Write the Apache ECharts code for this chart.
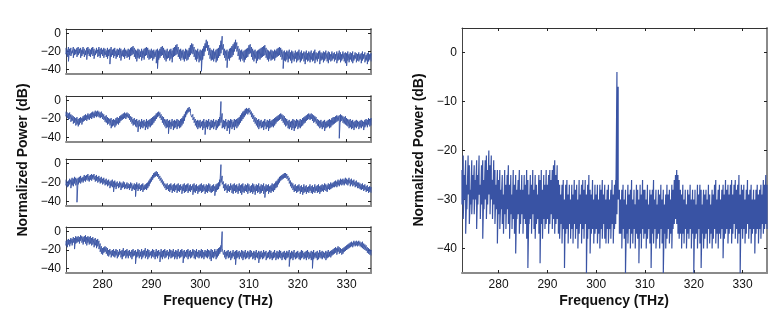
<!DOCTYPE html>
<html><head><meta charset="utf-8">
<script src="https://cdn.jsdelivr.net/npm/echarts@6/dist/echarts.min.js"></script>
<style>html,body{margin:0;padding:0;background:#fff}#c{width:780px;height:324px}</style>
</head><body><div id="c"></div>
<script>
const FONT = '"Liberation Sans Narrow","Liberation Sans",Arial,sans-serif';
// Each spectrum is summarised per 0.25 THz bin (272.5 ... 335 THz) by the upper and lower
// edge of the dense noisy trace, in dB.
const freqStart = 272.5, freqStep = 0.25;
const xTicks = [280, 290, 300, 310, 320, 330];
const yTicksSmall = [0, -20, -40];
const yTicksLarge = [0, -10, -20, -30, -40];

const panel1Upper = [
-16,-18,-15,-17,-16,-19,-15,-17,-18,-16, -15,-17,-16,-18,-15,-17,-19,-16,-15,-17,
-18,-16,-15,-17,-19,-16,-18,-15,-17,-16, -18,-16,-17,-19,-16,-18,-17,-15,-18,-17,
-16,-19,-17,-18,-16,-17,-19,-18,-16,-18, -19,-17,-18,-16,-15,-14,-16,-18,-19,-17,
-18,-20,-17,-19,-17,-16,-15,-16,-18,-19, -17,-19,-18,-20,-18,-17,-19,-17,-15,-14,
-16,-18,-19,-17,-20,-18,-17,-19,-16,-15, -13,-12,-15,-18,-17,-19,-18,-20,-17,-18,
-19,-16,-13,-11,-12,-15,-18,-19,-17,-20, -18,-19,-17,-14,-11,-7,-9,-13,-16,-18,
-19,-17,-20,-18,-17,-16,-13,-8,-3,-12, -17,-19,-18,-20,-17,-16,-14,-12,-10,-7,
-10,-14,-17,-19,-18,-20,-19,-18,-17,-16, -13,-12,-15,-17,-19,-18,-20,-19,-18,-17,
-16,-15,-14,-13,-16,-18,-19,-20,-18,-19, -20,-18,-19,-17,-16,-15,-16,-18,-20,-19,
-21,-19,-20,-18,-21,-19,-20,-22,-19,-21, -20,-18,-21,-19,-22,-20,-21,-19,-22,-20,
-21,-19,-22,-20,-18,-21,-22,-20,-19,-21, -22,-20,-21,-19,-22,-20,-21,-23,-20,-22,
-21,-23,-20,-22,-19,-21,-23,-20,-22,-21, -22,-20,-23,-21,-22,-20,-24,-21,-22,-23,
-21,-23,-22,-20,-23,-21,-24,-22,-21,-23, -22];
const panel1Lower = [
-23,-26,-31,-24,-25,-22,-27,-24,-23,-26, -24,-22,-27,-25,-23,-26,-24,-29,-23,-25,
-26,-23,-25,-28,-24,-22,-26,-25,-27,-23, -25,-27,-24,-26,-28,-25,-34,-26,-24,-27,
-25,-28,-26,-24,-27,-30,-25,-26,-28,-25, -27,-26,-29,-25,-24,-23,-26,-28,-31,-27,
-28,-26,-30,-27,-29,-25,-24,-27,-29,-28, -27,-30,-28,-26,-33,-39,-29,-27,-25,-24,
-27,-29,-31,-28,-27,-30,-28,-32,-26,-25, -24,-23,-26,-28,-30,-27,-29,-31,-28,-30,
-29,-26,-24,-22,-23,-26,-29,-31,-28,-32, -30,-42,-29,-25,-20,-16,-19,-24,-28,-30,
-29,-31,-28,-32,-30,-27,-25,-22,-18,-24, -27,-30,-38,-28,-30,-27,-26,-24,-20,-17,
-20,-25,-29,-31,-28,-30,-32,-29,-27,-26, -23,-22,-26,-29,-31,-28,-33,-30,-28,-29,
-27,-26,-25,-24,-27,-29,-31,-28,-30,-29, -28,-30,-27,-26,-25,-24,-26,-29,-39,-30,
-31,-29,-32,-28,-30,-33,-29,-31,-28,-32, -30,-29,-32,-30,-28,-31,-34,-29,-31,-30,
-32,-29,-31,-30,-33,-29,-31,-28,-34,-30, -29,-32,-30,-28,-31,-33,-29,-31,-30,-28,
-31,-29,-33,-30,-29,-32,-30,-28,-31,-33, -36,-30,-32,-29,-31,-33,-30,-28,-32,-30,
-31,-29,-33,-30,-28,-32,-30,-34,-31,-29, -31];

const panel2Upper = [
-12,-13,-14,-13,-15,-16,-17,-18,-19,-18, -20,-19,-18,-19,-17,-16,-15,-16,-14,-15,
-14,-13,-12,-13,-11,-12,-11,-12,-13,-12, -14,-15,-17,-16,-18,-19,-20,-19,-21,-20,
-21,-19,-18,-19,-17,-16,-15,-14,-13,-14, -13,-14,-15,-17,-18,-20,-19,-21,-20,-22,
-21,-23,-20,-22,-21,-23,-20,-22,-21,-20, -19,-18,-17,-16,-14,-13,-12,-13,-15,-17,
-18,-20,-21,-20,-22,-21,-23,-20,-22,-21, -22,-20,-21,-22,-20,-19,-17,-15,-12,-10,
-8,-7,-9,-12,-15,-18,-20,-22,-21,-22, -21,-23,-22,-20,-23,-21,-22,-20,-23,-21,
-22,-20,-23,-21,-22,-20,-18,-1,-14,-21, -22,-20,-23,-21,-22,-20,-21,-23,-20,-21,
-20,-19,-18,-16,-14,-12,-11,-9,-8,-9, -8,-10,-12,-14,-16,-18,-19,-21,-20,-22,
-21,-23,-22,-20,-23,-21,-22,-20,-22,-21, -20,-19,-18,-17,-16,-15,-14,-15,-16,-17,
-19,-20,-22,-21,-23,-22,-20,-21,-22,-20, -21,-22,-20,-21,-19,-18,-17,-16,-15,-14,
-15,-14,-15,-16,-17,-18,-20,-21,-22,-21, -23,-22,-21,-23,-22,-21,-20,-21,-19,-18,
-18,-17,-16,-17,-16,-15,-16,-17,-18,-17, -19,-20,-21,-20,-22,-21,-23,-22,-21,-22,
-23,-22,-21,-22,-23,-21,-20,-21,-19,-20, -19];
const panel2Lower = [
-17,-19,-21,-20,-23,-22,-25,-24,-27,-26, -28,-26,-24,-26,-23,-22,-21,-22,-20,-21,
-19,-20,-18,-19,-17,-18,-17,-18,-19,-18, -20,-21,-23,-24,-26,-25,-27,-30,-28,-27,
-29,-27,-25,-26,-24,-22,-21,-20,-19,-20, -18,-19,-21,-23,-25,-27,-26,-28,-29,-34,
-28,-31,-29,-30,-28,-32,-29,-31,-28,-29, -27,-26,-24,-22,-20,-18,-17,-19,-21,-24,
-26,-28,-30,-29,-36,-29,-31,-28,-32,-30, -29,-31,-28,-30,-29,-27,-25,-22,-18,-15,
-13,-12,-14,-18,-21,-24,-27,-29,-31,-29, -30,-28,-32,-30,-37,-29,-31,-28,-32,-30,
-29,-31,-28,-32,-30,-28,-27,-24,-30,-29, -31,-28,-33,-30,-36,-29,-31,-29,-32,-28,
-30,-28,-26,-24,-22,-20,-18,-16,-14,-15, -13,-15,-18,-20,-23,-25,-27,-29,-31,-28,
-30,-29,-32,-28,-31,-29,-33,-30,-29,-28, -29,-27,-25,-23,-22,-21,-20,-22,-24,-26,
-28,-27,-30,-31,-29,-32,-30,-33,-30,-28, -31,-29,-30,-28,-27,-25,-24,-22,-21,-20,
-21,-20,-22,-24,-23,-25,-27,-28,-30,-29, -31,-29,-33,-30,-29,-28,-30,-29,-27,-26,
-25,-24,-23,-22,-41,-23,-22,-24,-25,-26, -27,-28,-30,-29,-31,-30,-32,-29,-30,-28,
-31,-29,-30,-28,-32,-29,-27,-29,-26,-28, -27];

const panel3Upper = [
-17,-19,-18,-16,-17,-15,-16,-14,-15,-16, -15,-14,-13,-15,-14,-12,-13,-12,-11,-13,
-12,-11,-12,-11,-13,-12,-14,-13,-15,-14, -16,-15,-17,-16,-18,-17,-19,-18,-17,-19,
-18,-20,-19,-21,-19,-20,-21,-19,-20,-22, -20,-21,-22,-20,-21,-23,-21,-22,-20,-22,
-21,-23,-22,-21,-23,-22,-21,-20,-18,-16, -14,-12,-10,-9,-8,-9,-11,-13,-15,-17,
-19,-21,-22,-21,-23,-22,-21,-23,-22,-21, -23,-22,-21,-23,-22,-24,-22,-21,-23,-22,
-21,-23,-22,-24,-22,-21,-23,-22,-24,-23, -22,-21,-23,-22,-24,-22,-23,-21,-22,-24,
-23,-22,-24,-22,-21,-20,-17,-1,-13,-19, -22,-21,-23,-22,-24,-21,-23,-22,-21,-23,
-22,-24,-21,-23,-22,-21,-24,-22,-23,-21, -22,-24,-23,-21,-22,-24,-22,-23,-21,-24,
-22,-23,-21,-24,-22,-23,-22,-24,-23,-21, -22,-21,-19,-18,-16,-14,-13,-12,-11,-10,
-10,-11,-13,-15,-18,-20,-21,-23,-22,-24, -23,-22,-24,-23,-25,-22,-24,-23,-25,-24,
-22,-24,-23,-25,-22,-24,-23,-22,-24,-23, -22,-23,-21,-22,-23,-21,-22,-20,-21,-20,
-19,-18,-19,-17,-18,-16,-17,-16,-17,-15, -16,-17,-15,-17,-16,-18,-17,-19,-18,-20,
-20,-21,-22,-21,-23,-22,-24,-23,-25,-24, -25];
const panel3Lower = [
-23,-25,-24,-22,-26,-23,-24,-21,-23,-41, -22,-20,-21,-19,-20,-18,-19,-17,-18,-19,
-17,-18,-16,-17,-19,-18,-20,-19,-21,-20, -22,-21,-23,-22,-24,-23,-26,-24,-25,-30,
-25,-27,-24,-26,-25,-28,-26,-25,-27,-26, -27,-26,-28,-26,-29,-27,-28,-35,-27,-29,
-27,-29,-28,-30,-28,-27,-28,-26,-24,-21, -19,-17,-15,-14,-13,-14,-16,-18,-20,-22,
-24,-26,-28,-27,-29,-30,-28,-31,-29,-30, -28,-31,-29,-30,-28,-32,-29,-31,-30,-29,
-31,-29,-30,-28,-33,-30,-31,-29,-32,-30, -29,-31,-30,-29,-32,-30,-31,-29,-30,-31,
-30,-29,-34,-30,-28,-27,-24,-20,-22,-26, -29,-28,-31,-29,-30,-28,-31,-32,-29,-31,
-30,-32,-29,-31,-33,-30,-31,-29,-30,-32, -29,-31,-30,-32,-30,-33,-29,-31,-30,-32,
-31,-29,-32,-36,-30,-29,-32,-30,-31,-29, -30,-28,-26,-25,-22,-20,-18,-17,-16,-15,
-15,-16,-18,-21,-24,-26,-28,-30,-29,-31, -30,-29,-32,-30,-33,-31,-30,-32,-30,-31,
-29,-31,-32,-30,-31,-29,-31,-30,-32,-30, -29,-30,-28,-29,-30,-27,-28,-27,-26,-25,
-25,-24,-25,-23,-24,-22,-23,-22,-23,-21, -22,-23,-21,-24,-22,-24,-23,-25,-24,-26,
-26,-27,-28,-27,-29,-28,-30,-29,-31,-30, -31];

const panel4Upper = [
-10,-9,-8,-9,-7,-8,-6,-7,-5,-6, -5,-6,-4,-5,-6,-5,-4,-6,-5,-6,
-5,-7,-6,-8,-7,-9,-8,-10,-13,-16, -18,-17,-16,-17,-18,-20,-19,-21,-20,-19,
-21,-19,-20,-22,-19,-21,-20,-18,-21,-20, -19,-21,-20,-22,-20,-19,-21,-20,-22,-19,
-20,-22,-19,-21,-20,-18,-21,-19,-20,-22, -21,-19,-20,-22,-19,-21,-20,-22,-19,-21,
-20,-19,-21,-20,-22,-19,-20,-21,-19,-22, -20,-21,-19,-22,-20,-19,-21,-20,-22,-20,
-19,-21,-20,-22,-19,-20,-21,-19,-22,-20, -21,-19,-20,-22,-20,-21,-19,-20,-21,-19,
-20,-22,-19,-21,-19,-18,-17,-15,0,-16, -20,-22,-21,-20,-22,-21,-23,-20,-22,-21,
-20,-22,-21,-23,-20,-21,-22,-20,-23,-21, -22,-20,-21,-23,-21,-22,-20,-23,-21,-22,
-21,-23,-20,-22,-21,-23,-22,-20,-21,-23, -22,-20,-23,-21,-22,-20,-21,-23,-22,-21,
-23,-21,-22,-20,-23,-21,-22,-20,-23,-22, -21,-23,-22,-20,-21,-23,-22,-21,-20,-22,
-23,-21,-22,-20,-23,-22,-21,-23,-20,-22, -21,-22,-23,-21,-22,-20,-22,-21,-20,-19,
-18,-17,-18,-16,-17,-18,-19,-18,-17,-16, -15,-14,-13,-12,-11,-12,-10,-11,-10,-11,
-10,-11,-12,-11,-13,-14,-15,-17,-18,-19, -20];
const panel4Lower = [
-15,-17,-14,-16,-13,-15,-12,-19,-13,-12, -11,-13,-10,-12,-14,-11,-13,-15,-12,-14,
-13,-15,-14,-17,-15,-18,-16,-19,-22,-24, -25,-23,-22,-24,-26,-27,-25,-28,-26,-27,
-28,-26,-29,-27,-25,-28,-30,-27,-26,-29, -27,-29,-26,-28,-30,-27,-26,-35,-28,-27,
-29,-27,-30,-28,-26,-29,-27,-30,-28,-26, -29,-27,-28,-30,-27,-29,-26,-33,-28,-30,
-27,-29,-28,-26,-30,-27,-29,-28,-27,-30, -28,-30,-27,-29,-28,-27,-34,-29,-27,-28,
-30,-27,-29,-28,-26,-29,-30,-27,-28,-29, -27,-29,-28,-30,-27,-28,-29,-27,-30,-32,
-28,-29,-27,-30,-28,-26,-24,-22,-18,-25, -28,-30,-27,-29,-28,-31,-29,-27,-30,-36,
-29,-28,-30,-27,-29,-31,-28,-30,-29,-28, -30,-28,-27,-30,-29,-31,-28,-29,-34,-30,
-28,-30,-29,-27,-31,-29,-28,-30,-29,-31, -29,-28,-31,-29,-30,-28,-29,-31,-28,-30,
-31,-29,-28,-38,-30,-29,-31,-28,-30,-29, -28,-30,-31,-29,-28,-30,-29,-31,-28,-30,
-29,-31,-40,-30,-28,-29,-31,-30,-28,-29, -30,-28,-29,-31,-29,-28,-27,-28,-26,-25,
-24,-23,-25,-22,-24,-23,-25,-24,-22,-21, -20,-19,-18,-17,-16,-17,-15,-16,-15,-16,
-15,-16,-17,-18,-19,-20,-21,-23,-24,-25, -26];

const mainUpper = [
-24,-21,-25,-22,-27,-21,-23,-28,-22,-25, -23,-26,-22,-25,-21,-27,-23,-22,-26,-22,
-21,-24,-20,-23,-21,-26,-22,-24,-27,-24, -26,-24,-28,-25,-29,-24,-27,-25,-23,-27,
-25,-29,-24,-27,-25,-28,-26,-24,-28,-25, -28,-25,-27,-24,-26,-29,-25,-27,-24,-28,
-25,-27,-29,-25,-26,-24,-28,-25,-27,-24, -27,-25,-24,-26,-24,-23,-22,-25,-23,-26,
-27,-29,-27,-26,-30,-27,-26,-29,-27,-30, -27,-29,-26,-28,-27,-30,-26,-29,-27,-26,
-28,-26,-29,-27,-25,-28,-29,-26,-30,-27, -29,-27,-30,-27,-28,-26,-29,-27,-30,-28,
-27,-30,-28,-26,-29,-27,-26,-4,-7,-28, -30,-28,-27,-30,-28,-31,-27,-29,-28,-26,
-30,-28,-31,-27,-28,-30,-27,-29,-26,-28, -28,-30,-27,-31,-28,-29,-28,-26,-30,-28,
-31,-28,-29,-27,-30,-28,-31,-29,-27,-29, -28,-30,-27,-28,-26,-25,-24,-25,-26,-28,
-29,-27,-30,-28,-31,-28,-29,-27,-30,-28, -30,-28,-31,-27,-29,-27,-28,-31,-28,-29,
-28,-30,-27,-29,-31,-28,-29,-27,-26,-30, -28,-27,-30,-28,-27,-29,-26,-28,-27,-29,
-27,-26,-29,-27,-26,-28,-27,-25,-29,-27, -28,-27,-30,-28,-26,-29,-28,-27,-30,-28,
-30,-28,-27,-29,-28,-27,-29,-26,-27,-25, -27];
const mainLower = [
-31,-34,-30,-37,-32,-29,-35,-31,-33,-30, -33,-30,-36,-31,-29,-34,-31,-38,-32,-30,
-34,-31,-29,-33,-30,-34,-31,-35,-32,-39, -33,-36,-32,-35,-37,-33,-36,-32,-35,-38,
-33,-36,-34,-37,-41,-34,-33,-37,-35,-33, -37,-34,-35,-38,-44,-35,-34,-37,-33,-36,
-38,-35,-34,-37,-43,-35,-38,-34,-36,-35, -34,-37,-35,-33,-36,-34,-37,-35,-34,-37,
-38,-35,-39,-36,-44,-37,-36,-39,-35,-38, -36,-39,-35,-38,-36,-40,-37,-35,-39,-36,
-38,-35,-45,-38,-36,-41,-37,-36,-39,-37, -36,-39,-37,-40,-36,-38,-35,-38,-39,-36,
-39,-36,-38,-35,-39,-36,-35,-33,-30,-37, -37,-40,-36,-38,-45,-37,-39,-36,-40,-37,
-39,-36,-40,-37,-38,-43,-37,-40,-36,-38, -37,-40,-38,-36,-39,-44,-37,-39,-36,-40,
-38,-37,-40,-36,-39,-45,-37,-40,-38,-36, -39,-37,-40,-36,-35,-34,-35,-37,-38,-37,
-40,-37,-39,-36,-40,-37,-38,-36,-40,-37, -45,-38,-37,-40,-36,-39,-44,-37,-40,-38,
-37,-40,-36,-39,-37,-40,-38,-36,-39,-37, -40,-37,-38,-36,-42,-38,-37,-36,-39,-37,
-36,-39,-37,-35,-38,-36,-39,-37,-45,-36, -38,-36,-39,-37,-35,-38,-36,-39,-37,-36,
-41,-37,-36,-39,-36,-38,-35,-37,-36,-35, -36];

// trace through each bin: upper edge then lower edge at the bin's frequency
function toTrace(upper, lower) {
  const out = [];
  upper.forEach((u, i) => {
    const f = freqStart + i * freqStep;
    out.push([f, u]);
    out.push([f, lower[i]]);
  });
  return out;
}
const minus = v => String(v).replace('-', '\u2212');

const grids = [
  { left: 66, top: 29, width: 305, height: 45 },
  { left: 66, top: 96, width: 305, height: 46 },
  { left: 66, top: 159, width: 305, height: 47 },
  { left: 66, top: 227, width: 305, height: 46 },
  { left: 462, top: 28, width: 305, height: 245 }
];
const spectra = [
  [panel1Upper, panel1Lower], [panel2Upper, panel2Lower], [panel3Upper, panel3Lower],
  [panel4Upper, panel4Lower], [mainUpper, mainLower]
];
const xAxis = [], yAxis = [], series = [];
grids.forEach((g, k) => {
  const showX = k >= 3;
  const yt = k === 4 ? yTicksLarge : yTicksSmall;
  const tick = { show: true, inside: true, length: 3, lineStyle: { color: '#222', width: 1 } };
  xAxis.push({
    type: 'value', gridIndex: k, min: 272.5, max: 335, position: 'bottom',
    axisLine: { show: true, onZero: false, lineStyle: { color: '#8a8a8a', width: 2 } },
    axisTick: Object.assign({ customValues: xTicks }, tick),
    axisLabel: { show: showX, customValues: xTicks, color: '#111', fontSize: 12, fontFamily: FONT, margin: 6 },
    splitLine: { show: false }
  });
  xAxis.push({
    type: 'value', gridIndex: k, min: 272.5, max: 335, position: 'top',
    axisLine: { show: true, onZero: false, lineStyle: { color: '#333', width: 1 } },
    axisTick: Object.assign({ customValues: xTicks }, tick),
    axisLabel: { show: false }, splitLine: { show: false }
  });
  yAxis.push({
    type: 'value', gridIndex: k, min: -45, max: 5, position: 'left',
    axisLine: { show: true, onZero: false, lineStyle: { color: '#444', width: 1 } },
    axisTick: Object.assign({ customValues: yt }, tick),
    axisLabel: { show: true, customValues: yt, formatter: minus, color: '#111', fontSize: 12, fontFamily: FONT, margin: 5 },
    splitLine: { show: false }
  });
  yAxis.push({
    type: 'value', gridIndex: k, min: -45, max: 5, position: 'right',
    axisLine: { show: true, onZero: false, lineStyle: { color: '#8a8a8a', width: 2 } },
    axisTick: Object.assign({ customValues: yt }, tick),
    axisLabel: { show: false }, splitLine: { show: false }
  });
  series.push({
    type: 'line', xAxisIndex: 2 * k, yAxisIndex: 2 * k, data: toTrace(spectra[k][0], spectra[k][1]),
    symbol: 'none', showSymbol: false, sampling: null, silent: true,
    lineStyle: { color: '#3953a4', width: k === 4 ? 1.2 : 0.9 }
  });
});

const nameFont = 'bold 14px ' + FONT;
const option = {
  animation: false,
  backgroundColor: '#fff',
  grid: grids,
  xAxis, yAxis, series,
  graphic: [
    { type: 'text', x: 23, y: 160, rotation: Math.PI / 2, style: { text: 'Normalized Power (dB)', font: nameFont, fill: '#111', align: 'center', verticalAlign: 'middle' } },
    { type: 'text', x: 419, y: 150, rotation: Math.PI / 2, style: { text: 'Normalized Power (dB)', font: nameFont, fill: '#111', align: 'center', verticalAlign: 'middle' } },
    { type: 'text', x: 218, y: 301, style: { text: 'Frequency (THz)', font: nameFont, fill: '#111', align: 'center', verticalAlign: 'middle' } },
    { type: 'text', x: 614, y: 301, style: { text: 'Frequency (THz)', font: nameFont, fill: '#111', align: 'center', verticalAlign: 'middle' } }
  ]
};
const chart = echarts.init(document.getElementById('c'), null, { renderer: 'canvas' });
chart.setOption(option);
</script></body></html>
